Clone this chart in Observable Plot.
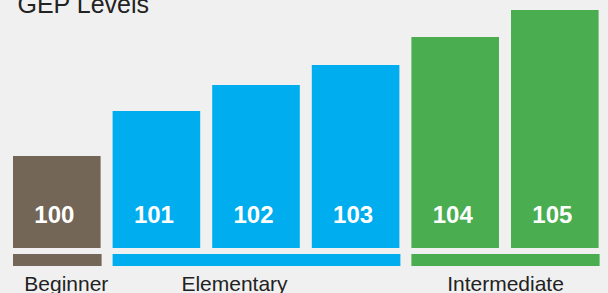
<!DOCTYPE html>
<html>
<head>
<meta charset="utf-8">
<script src="https://cdn.jsdelivr.net/npm/d3@7"></script>
<script src="https://cdn.jsdelivr.net/npm/@observablehq/plot@0.6"></script>
<style>
  html, body { margin: 0; padding: 0; background: #f0f0f0; }
  #chart { width: 608px; height: 293px; overflow: hidden; }
</style>
</head>
<body>
<div id="chart"></div>
<script>
const title = "GEP Levels";
const levels = ["100", "101", "102", "103", "104", "105"];
const heights = [92, 137, 163, 183, 211, 238];
const levelGroup = ["Beginner", "Elementary", "Elementary", "Elementary", "Intermediate", "Intermediate"];
const groups = ["Beginner", "Elementary", "Intermediate"];
const groupColors = ["#736657", "#00aeef", "#4aad4f"];
// horizontal nudges of the group labels (px), layout only
const labelShiftPx = [9, -22, 0];

const bars = levels.map((l, i) => ({level: l, idx: i, value: heights[i], group: levelGroup[i]}));
const spans = groups.map((g, gi) => {
  const idxs = bars.filter(b => b.group === g).map(b => b.idx);
  return {group: g, start: d3.min(idxs), end: d3.max(idxs) + 1, shift: labelShiftPx[gi]};
});

const pxPerUnit = 99.6;
const chart = Plot.plot({
  width: 608,
  height: 293,
  margin: 0,
  style: {background: "#f0f0f0", fontFamily: "'Liberation Sans', Arial, sans-serif"},
  x: {type: "linear", domain: [0, 6], range: [7, 7 + 6 * pxPerUnit], axis: null},
  y: {domain: [0, 248], range: [248, 0], axis: null},
  color: {domain: groups, range: groupColors},
  marks: [
    Plot.rectY(bars, {x1: "idx", x2: d => d.idx + 1, y: "value", fill: "group", insetLeft: 6, insetRight: 6}),
    Plot.rect(spans, {x1: "start", x2: "end", y1: -6, y2: -18, fill: "group", insetLeft: 6, insetRight: 5}),
    Plot.text(bars, {x: d => d.idx + 0.5, y: 0, dy: -26, dx: -3, text: "level", fill: "white",
      fontWeight: "bold", fontSize: 24, lineAnchor: "bottom"}),
    Plot.text(spans, {x: d => (d.start + d.end) / 2 + d.shift / pxPerUnit, y: 0, dy: 42, text: "group",
      fill: "#222", fontSize: 21, lineAnchor: "bottom"}),
    Plot.text([title], {frameAnchor: "top-left", dx: 17, dy: 12, text: d => d, fill: "#222",
      fontSize: 25, textAnchor: "start", lineAnchor: "bottom"})
  ]
});
document.getElementById("chart").appendChild(chart);
</script>
</body>
</html>
